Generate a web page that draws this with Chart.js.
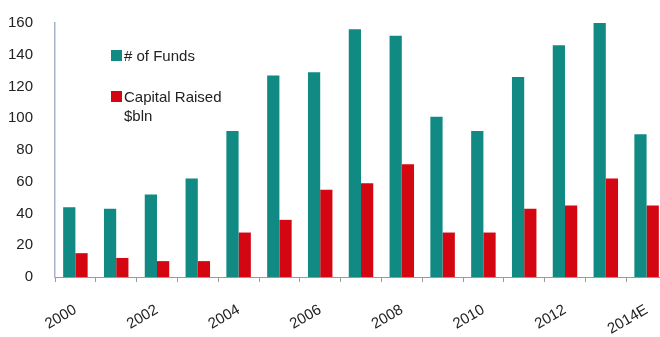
<!DOCTYPE html>
<html>
<head>
<meta charset="utf-8">
<script src="https://cdn.jsdelivr.net/npm/chart.js@4/dist/chart.umd.min.js"></script>
<style>
  html, body { margin: 0; padding: 0; background: #fff; }
  #wrap { position: relative; width: 660px; height: 337px; overflow: hidden; }
  canvas { display: block; }
  .legend { position: absolute; left: 111px; font: 15px 'Liberation Sans', Arial, sans-serif; color: #222; line-height: 19px; }
  .legend .sw { position: absolute; left: 0; top: 4px; width: 11px; height: 11px; }
  .legend .txt { margin-left: 13px; }
</style>
</head>
<body>
<div id="wrap">
  <canvas id="chart" width="667" height="337"></canvas>
  <div class="legend" style="top:46px"><span class="sw" style="background:#108a82"></span><div class="txt"># of Funds</div></div>
  <div class="legend" style="top:87px"><span class="sw" style="background:#d40612"></span><div class="txt">Capital Raised<br>$bln</div></div>
</div>
<script>
const CHART_FONT = "'Liberation Sans', Arial, sans-serif";

// ── Data ──────────────────────────────────────────────
const years = ['2000', '2001', '2002', '2003', '2004', '2005', '2006', '2007',
  '2008', '2009', '2010', '2011', '2012', '2013', '2014E'];
const numFunds = [44, 43, 52, 62, 92, 127, 129, 156, 152, 101, 92, 126, 146, 160, 90];
const capitalRaised = [15, 12, 10, 10, 28, 36, 55, 59, 71, 28, 28, 43, 45, 62, 45];
const yTicks = [0, 20, 40, 60, 80, 100, 120, 140, 160];

const ctx = document.getElementById('chart').getContext('2d');

new Chart(ctx, {
  type: 'bar',
  data: {
    labels: years,
    datasets: [
      {
        label: '# of Funds',
        data: numFunds,
        backgroundColor: '#108a82',
        categoryPercentage: 0.6,
        barPercentage: 1.0,
      },
      {
        label: 'Capital Raised $bln',
        data: capitalRaised,
        backgroundColor: '#d40612',
        categoryPercentage: 0.6,
        barPercentage: 1.0,
      }
    ]
  },
  options: {
    responsive: false,
    animation: false,
    layout: { padding: { top: 14, right: 0, left: 0, bottom: 0 } },
    plugins: {
      legend: { display: false },
      tooltip: { enabled: false }
    },
    scales: {
      x: {
        grid: { display: true, drawOnChartArea: false, offset: true, tickLength: 5, color: '#9a9a9a' },
        border: { color: '#9a9a9a' },
        ticks: {
          color: '#222',
          font: { size: 15, family: CHART_FONT },
          minRotation: 30, maxRotation: 30,
          autoSkip: false,
          padding: 19,
          callback: (v, i) => (i % 2 === 0 ? years[i] : '')
        },
        afterFit: axis => {
          axis.height = 60;
          axis.paddingLeft = 0;
          axis.paddingRight = 0;
        }
      },
      y: {
        min: 0,
        max: 160,
        afterBuildTicks: axis => { axis.ticks = yTicks.map(v => ({ value: v })); },
        grid: { display: false },
        border: { color: '#a7b2c6', width: 1.5 },
        ticks: {
          color: '#222',
          font: { size: 15, family: CHART_FONT },
          padding: 14
        },
        afterFit: axis => { axis.width = 55; }
      }
    }
  }
});
</script>
</body>
</html>
